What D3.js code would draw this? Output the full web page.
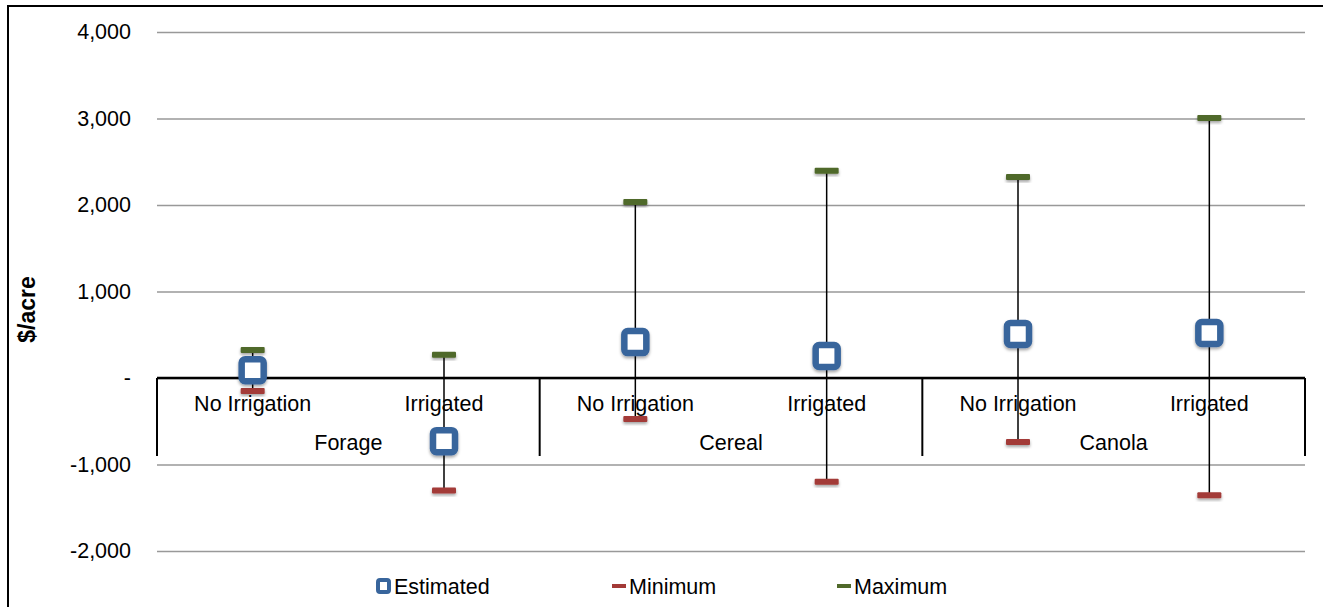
<!DOCTYPE html>
<html>
<head>
<meta charset="utf-8">
<script src="https://cdn.jsdelivr.net/npm/d3@7"></script>
<style>
	html, body { margin: 0; padding: 0; background: #fff; }
	svg { display: block; font-family: "Liberation Sans", Arial, sans-serif; }
</style>
</head>
<body>
<svg id="chart" width="1323" height="607"></svg>
<script>
(function () {
	const subLabels = ["No Irrigation", "Irrigated", "No Irrigation", "Irrigated", "No Irrigation", "Irrigated"];
	const groupLabels = ["Forage", "Cereal", "Canola"];
	const estimated = [90, -730, 415, 255, 510, 520];
	const minimum = [-150, -1300, -475, -1200, -740, -1355];
	const maximum = [325, 270, 2035, 2395, 2325, 3005];
	const yTicks = [-2000, -1000, 0, 1000, 2000, 3000, 4000];

	const svg = d3.select("#chart");
	const plotLeft = 157, plotRight = 1305, plotTop = 32, plotBottom = 551;
	const fontSize = 21.5;

	const x = d3.scaleBand().domain(d3.range(subLabels.length)).range([plotLeft, plotRight]).padding(0);
	const y = d3.scaleLinear().domain([-2000, 4000]).range([plotBottom, plotTop]);
	const fmt = d3.formatLocale({ decimal: ".", thousands: ",", grouping: [3], currency: ["$", ""], minus: "-" }).format(",");

	const defs = svg.append("defs");
	const shadow = defs.append("filter").attr("id", "shadow").attr("x", "-50%").attr("y", "-50%").attr("width", "200%").attr("height", "200%");
	shadow.append("feDropShadow").attr("dx", 0).attr("dy", 2).attr("stdDeviation", 1.5).attr("flood-color", "#000").attr("flood-opacity", 0.35);

	// outer frame
	svg.append("path")
		.attr("d", "M8,607 L8,6 L1323,6")
		.attr("fill", "none")
		.attr("stroke", "#000")
		.attr("stroke-width", 2);

	// gridlines + tick labels
	const yAxis = d3.axisLeft(y)
		.tickValues(yTicks)
		.tickSize(-(plotRight - plotLeft))
		.tickPadding(26)
		.tickFormat((d) => (d === 0 ? "-" : fmt(d)));

	const yg = svg.append("g").attr("transform", `translate(${plotLeft},0)`).call(yAxis);
	yg.select(".domain").remove();
	yg.attr("font-family", null).attr("font-size", null);
	yg.selectAll(".tick line").attr("stroke", "#999").attr("stroke-width", 1.5);
	yg.selectAll(".tick text").attr("font-size", fontSize).attr("fill", "#000");

	svg.append("text")
		.attr("transform", `translate(35,${(plotTop + plotBottom) / 2 + 18}) rotate(-90)`)
		.attr("text-anchor", "middle")
		.attr("font-size", 23)
		.attr("font-weight", "bold")
		.text("$/acre");

	// category axis
	const y0 = y(0);
	svg.append("line")
		.attr("x1", plotLeft).attr("x2", plotRight)
		.attr("y1", y0).attr("y2", y0)
		.attr("stroke", "#000").attr("stroke-width", 2.5);

	const groupEdges = d3.range(groupLabels.length + 1).map((i) => (i === groupLabels.length ? plotRight : x(i * 2)));
	svg.append("g")
		.selectAll("line")
		.data(groupEdges)
		.join("line")
		.attr("x1", (d) => d).attr("x2", (d) => d)
		.attr("y1", y0).attr("y2", y0 + 78)
		.attr("stroke", "#000").attr("stroke-width", 2);

	svg.append("g")
		.selectAll("text")
		.data(subLabels)
		.join("text")
		.attr("x", (d, i) => x(i) + x.bandwidth() / 2)
		.attr("y", y0 + 33)
		.attr("text-anchor", "middle")
		.attr("font-size", fontSize)
		.text((d) => d);

	svg.append("g")
		.selectAll("text")
		.data(groupLabels)
		.join("text")
		.attr("x", (d, i) => x(i * 2) + x.bandwidth())
		.attr("y", y0 + 72)
		.attr("text-anchor", "middle")
		.attr("font-size", fontSize)
		.text((d) => d);

	// error lines
	const cx = (i) => x(i) + x.bandwidth() / 2;
	svg.append("g")
		.selectAll("line")
		.data(subLabels)
		.join("line")
		.attr("x1", (d, i) => cx(i)).attr("x2", (d, i) => cx(i))
		.attr("y1", (d, i) => y(minimum[i]))
		.attr("y2", (d, i) => y(maximum[i]))
		.attr("stroke", "#000").attr("stroke-width", 1.5);

	const dash = (g, values, color) => {
		g.selectAll("rect")
			.data(values)
			.join("rect")
			.attr("x", (d, i) => cx(i) - 12)
			.attr("y", (d) => y(d) - 3)
			.attr("width", 24).attr("height", 6)
			.attr("rx", 1)
			.attr("fill", color)
			.attr("filter", "url(#shadow)");
	};
	dash(svg.append("g"), minimum, "#a33a37");
	dash(svg.append("g"), maximum, "#50692a");

	svg.append("g")
		.selectAll("rect")
		.data(estimated)
		.join("rect")
		.attr("x", (d, i) => cx(i) - 11)
		.attr("y", (d) => y(d) - 11)
		.attr("width", 22).attr("height", 22)
		.attr("rx", 3.5)
		.attr("fill", "#fff")
		.attr("stroke", "#38659c")
		.attr("stroke-width", 6.5)
		.attr("filter", "url(#shadow)");

	// legend
	const legendY = 586;
	const legend = svg.append("g").attr("font-size", fontSize);
	legend.append("rect").attr("x", 378).attr("y", legendY - 6).attr("width", 11).attr("height", 12).attr("rx", 2)
		.attr("fill", "#fff").attr("stroke", "#38659c").attr("stroke-width", 4);
	legend.append("text").attr("x", 394).attr("y", legendY + 8).text("Estimated");
	legend.append("rect").attr("x", 612).attr("y", legendY - 2).attr("width", 14).attr("height", 4).attr("fill", "#a33a37");
	legend.append("text").attr("x", 629).attr("y", legendY + 8).text("Minimum");
	legend.append("rect").attr("x", 837).attr("y", legendY - 2).attr("width", 14).attr("height", 4).attr("fill", "#50692a");
	legend.append("text").attr("x", 854).attr("y", legendY + 8).text("Maximum");
})();
</script>
</body>
</html>
